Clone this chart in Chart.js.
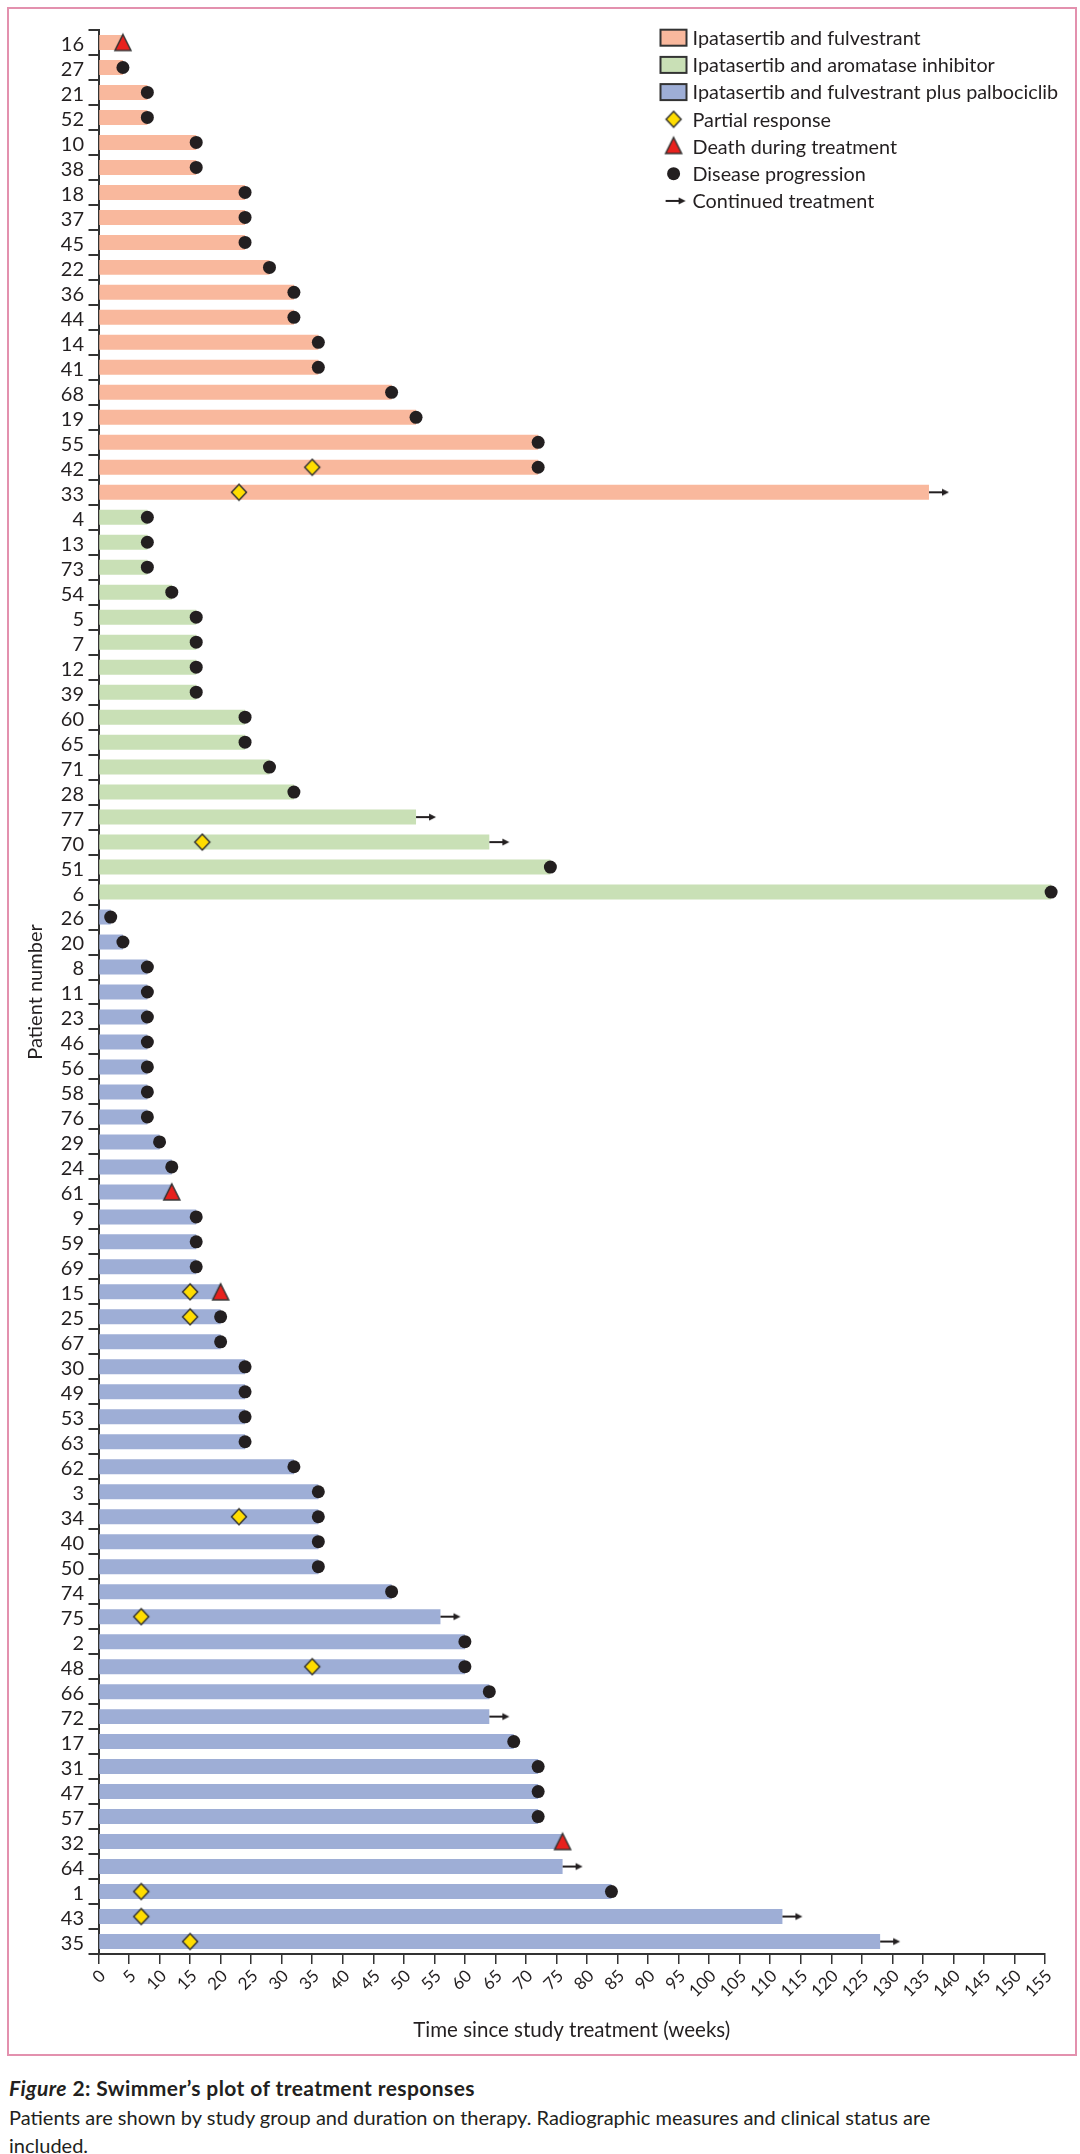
<!DOCTYPE html>
<html lang="en">
<head>
    <meta charset="UTF-8">
    <title>Swimmer's plot of treatment responses</title>
    <script src="https://cdn.jsdelivr.net/npm/chart.js@4"></script>
    <style>
        body { margin: 0; background: #fff; width: 1080px; height: 2154px; position: relative; font-family: Lato, sans-serif; color: #231F20; }
        .figure-box { position: absolute; left: 7px; top: 7px; width: 1066px; height: 2045px; border: 2px solid #E391AE; }
        .caption { position: absolute; left: 9px; top: 2074px; width: 1060px; font-size: 20px; line-height: 28.5px; }
        .caption .title { font-weight: 700; font-size: 21px; letter-spacing: 0.4px; }
    </style>
</head>
<body>
    <!-- Chart frame -->
    <div class="figure-box">
        <canvas id="swimmer" width="1066" height="2045"></canvas>
    </div>

    <!-- Figure caption -->
    <div class="caption">
        <div class="title"><i>Figure</i> 2: Swimmer’s plot of treatment responses</div>
        <div>Patients are shown by study group and duration on therapy. Radiographic measures and clinical status are<br>included.</div>
    </div>

    <script>
        // Ipatasertib and fulvestrant
        const orangePatients = ['16', '27', '21', '52', '10', '38', '18', '37', '45', '22', '36', '44', '14', '41', '68', '19', '55', '42', '33'];
        const orangeWeeks = [4, 4, 8, 8, 16, 16, 24, 24, 24, 28, 32, 32, 36, 36, 48, 52, 72, 72, 136];
        const orangeOutcome = ['D', 'P', 'P', 'P', 'P', 'P', 'P', 'P', 'P', 'P', 'P', 'P', 'P', 'P', 'P', 'P', 'P', 'P', 'C'];

        // Ipatasertib and aromatase inhibitor
        const greenPatients = ['4', '13', '73', '54', '5', '7', '12', '39', '60', '65', '71', '28', '77', '70', '51', '6'];
        const greenWeeks = [8, 8, 8, 12, 16, 16, 16, 16, 24, 24, 28, 32, 52, 64, 74, 156];
        const greenOutcome = ['P', 'P', 'P', 'P', 'P', 'P', 'P', 'P', 'P', 'P', 'P', 'P', 'C', 'C', 'P', 'P'];

        // Ipatasertib and fulvestrant plus palbociclib
        const bluePatients = ['26', '20', '8', '11', '23', '46', '56', '58', '76', '29', '24', '61', '9', '59', '69', '15', '25', '67', '30', '49', '53',
            '63', '62', '3', '34', '40', '50', '74', '75', '2', '48', '66', '72', '17', '31', '47', '57', '32', '64', '1', '43', '35'];
        const blueWeeks = [2, 4, 8, 8, 8, 8, 8, 8, 8, 10, 12, 12, 16, 16, 16, 20, 20, 20, 24, 24, 24,
            24, 32, 36, 36, 36, 36, 48, 56, 60, 60, 64, 64, 68, 72, 72, 72, 76, 76, 84, 112, 128];
        const blueOutcome = ['P', 'P', 'P', 'P', 'P', 'P', 'P', 'P', 'P', 'P', 'P', 'D', 'P', 'P', 'P', 'D', 'P', 'P', 'P', 'P', 'P',
            'P', 'P', 'P', 'P', 'P', 'P', 'P', 'C', 'P', 'P', 'P', 'C', 'P', 'P', 'P', 'P', 'D', 'C', 'P', 'C', 'C'];

        // Partial responses (week of response)
        const responsePatients = ['42', '33', '70', '15', '25', '34', '75', '48', '1', '43', '35'];
        const responseWeeks = [35, 23, 17, 15, 15, 23, 7, 35, 7, 7, 15];

        const groupNames = ['Ipatasertib and fulvestrant', 'Ipatasertib and aromatase inhibitor', 'Ipatasertib and fulvestrant plus palbociclib'];
        const eventNames = ['Partial response', 'Death during treatment', 'Disease progression', 'Continued treatment'];

        const groupColors = ['#F9B89D', '#C9E0B6', '#9EAED6'];
        const ink = '#231F20';

        Chart.defaults.font.family = 'Lato, sans-serif';
        Chart.defaults.color = ink;

        // marker sprites
        function makeDiamond() {
            const c = document.createElement('canvas');
            c.width = 20; c.height = 20;
            const g = c.getContext('2d');
            g.beginPath();
            g.moveTo(10, 2); g.lineTo(17.5, 10); g.lineTo(10, 18); g.lineTo(2.5, 10); g.closePath();
            g.fillStyle = '#FFDD00'; g.fill();
            g.lineWidth = 1.5; g.strokeStyle = '#333'; g.stroke();
            return c;
        }
        function makeTriangle() {
            const c = document.createElement('canvas');
            c.width = 22; c.height = 22;
            const g = c.getContext('2d');
            g.beginPath();
            g.moveTo(11, 3); g.lineTo(19, 19); g.lineTo(3, 19); g.closePath();
            g.fillStyle = '#E8211D'; g.fill();
            g.lineWidth = 1.5; g.strokeStyle = '#333'; g.stroke();
            return c;
        }
        function makeArrow() {
            // arrow starts at the centre of the sprite and points right
            const c = document.createElement('canvas');
            c.width = 44; c.height = 12;
            const g = c.getContext('2d');
            g.strokeStyle = ink; g.fillStyle = ink; g.lineWidth = 2;
            g.beginPath(); g.moveTo(22, 6); g.lineTo(37, 6); g.stroke();
            g.beginPath(); g.moveTo(35, 2.5); g.lineTo(42, 6); g.lineTo(35, 9.5); g.closePath(); g.fill();
            return c;
        }
        const diamond = makeDiamond();
        const triangle = makeTriangle();
        const arrow = makeArrow();

        const allPatients = orangePatients.concat(greenPatients, bluePatients);
        const allWeeks = orangeWeeks.concat(greenWeeks, blueWeeks);
        const allOutcome = orangeOutcome.concat(greenOutcome, blueOutcome);

        function barData(ids, weeks) {
            return weeks.map((w, i) => ({ x: w, y: ids[i] }));
        }
        function outcomeData(code) {
            const out = [];
            allOutcome.forEach((o, i) => { if (o === code) out.push({ x: allWeeks[i], y: allPatients[i] }); });
            return out;
        }

        // Legend drawn inside the plot, top right
        const swimmerLegend = {
            id: 'swimmerLegend',
            afterDraw(chart) {
                const ctx = chart.ctx;
                const boxX = 651.5, markX = 664.6, textX = 683.5, top = 28.7, step = 27.2;
                ctx.save();
                // size the legend font so the longest entry spans about 366px, as in the original
                ctx.font = '20px Lato, sans-serif';
                const longest = ctx.measureText(groupNames[2]).width;
                const size = Math.min(22, 20 * 366 / longest);
                ctx.font = size.toFixed(1) + 'px Lato, sans-serif';
                ctx.textBaseline = 'middle';
                ctx.textAlign = 'left';
                groupNames.forEach((name, i) => {
                    const y = top + i * step;
                    ctx.fillStyle = groupColors[i];
                    ctx.fillRect(boxX, y - 8, 26, 16);
                    ctx.lineWidth = 2; ctx.strokeStyle = '#333';
                    ctx.strokeRect(boxX, y - 8, 26, 16);
                    ctx.fillStyle = ink;
                    ctx.fillText(name, textX, y + 1);
                });
                eventNames.forEach((name, j) => {
                    const y = top + (j + 3) * step;
                    if (j === 0) ctx.drawImage(diamond, markX - 10, y - 10);
                    if (j === 1) ctx.drawImage(triangle, markX - 11, y - 12);
                    if (j === 2) {
                        ctx.beginPath(); ctx.arc(markX, y, 6.5, 0, Math.PI * 2);
                        ctx.fillStyle = ink; ctx.fill();
                    }
                    if (j === 3) ctx.drawImage(arrow, markX - 8 - 22, y - 6);
                    ctx.fillStyle = ink;
                    ctx.fillText(name, textX, y + 1);
                });
                ctx.restore();
            }
        };

        const markerBase = { type: 'scatter', order: 1, clip: false, pointBorderWidth: 0, pointHoverRadius: 0 };

        new Chart(document.getElementById('swimmer'), {
            type: 'bar',
            data: {
                labels: allPatients,
                datasets: [
                    { label: groupNames[0], data: barData(orangePatients, orangeWeeks), backgroundColor: groupColors[0], order: 2 },
                    { label: groupNames[1], data: barData(greenPatients, greenWeeks), backgroundColor: groupColors[1], order: 2 },
                    { label: groupNames[2], data: barData(bluePatients, blueWeeks), backgroundColor: groupColors[2], order: 2 },
                    Object.assign({ label: eventNames[2], data: outcomeData('P'), pointStyle: 'circle', pointRadius: 6.5, backgroundColor: ink }, markerBase),
                    Object.assign({ label: eventNames[1], data: outcomeData('D'), pointStyle: triangle, pointRadius: 10 }, markerBase),
                    Object.assign({ label: eventNames[3], data: outcomeData('C'), pointStyle: arrow, pointRadius: 10 }, markerBase),
                    Object.assign({ label: eventNames[0], data: barData(responsePatients, responseWeeks), pointStyle: diamond, pointRadius: 10, order: 0 }, { type: 'scatter', clip: false, pointBorderWidth: 0 })
                ]
            },
            options: {
                indexAxis: 'y',
                responsive: false,
                animation: false,
                devicePixelRatio: 1,
                layout: { padding: { top: 21, right: 30, left: 0, bottom: 0 } },
                datasets: {
                    bar: { grouped: false, barPercentage: 0.6, categoryPercentage: 1, borderWidth: 0, clip: false }
                },
                plugins: {
                    legend: { display: false },
                    tooltip: { enabled: false }
                },
                scales: {
                    x: {
                        type: 'linear',
                        position: 'bottom',
                        min: 0,
                        max: 155,
                        afterFit(scale) { scale.height = 100; },
                        border: { display: true, color: '#333', width: 2 },
                        grid: { display: true, drawOnChartArea: false, drawTicks: true, tickLength: 10, color: '#333', lineWidth: 1.5 },
                        ticks: { stepSize: 5, autoSkip: false, minRotation: 45, maxRotation: 45, padding: 2, labelOffset: 4, font: { size: 17 }, color: ink },
                        title: { display: true, text: 'Time since study treatment (weeks)', font: { size: 20.5 }, color: ink, padding: { top: 0, bottom: 11.7 } }
                    },
                    y: {
                        type: 'category',
                        offset: true,
                        afterFit(scale) { scale.width = 89.5; },
                        border: { display: true, color: '#333', width: 2 },
                        grid: { display: true, offset: true, drawOnChartArea: false, drawTicks: true, tickLength: 10, color: '#333', lineWidth: 2 },
                        ticks: { autoSkip: false, padding: 4.5, labelOffset: 2, font: { size: 20 }, color: ink },
                        title: { display: true, text: 'Patient number', font: { size: 20 }, color: ink, padding: { top: 15, bottom: 0 } }
                    }
                }
            },
            plugins: [swimmerLegend]
        });
    </script>
</body>
</html>
